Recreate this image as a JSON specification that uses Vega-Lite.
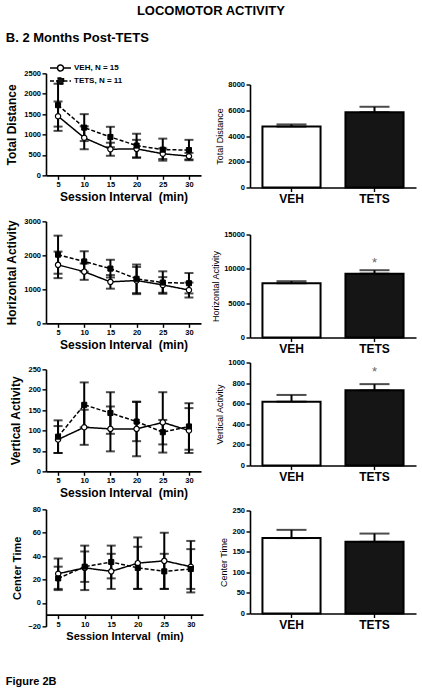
{
  "$schema": "https://vega.github.io/schema/vega-lite/v6.json",
  "padding": 5,
  "background": "white",
  "title": {"text": "LOCOMOTOR ACTIVITY", "anchor": "middle", "fontSize": 13, "offset": 14},
  "datasets": {
    "td": [
      {"t": 5, "group": "VEH", "mean": 1450, "sem": 360}, {"t": 10, "group": "VEH", "mean": 920, "sem": 280},
      {"t": 15, "group": "VEH", "mean": 640, "sem": 160}, {"t": 20, "group": "VEH", "mean": 650, "sem": 220},
      {"t": 25, "group": "VEH", "mean": 530, "sem": 130}, {"t": 30, "group": "VEH", "mean": 470, "sem": 80},
      {"t": 5, "group": "TETS", "mean": 1720, "sem": 525}, {"t": 10, "group": "TETS", "mean": 1170, "sem": 330},
      {"t": 15, "group": "TETS", "mean": 940, "sem": 250}, {"t": 20, "group": "TETS", "mean": 730, "sem": 290},
      {"t": 25, "group": "TETS", "mean": 630, "sem": 270}, {"t": 30, "group": "TETS", "mean": 620, "sem": 250}
    ],
    "ha": [
      {"t": 5, "group": "VEH", "mean": 1720, "sem": 390}, {"t": 10, "group": "VEH", "mean": 1520, "sem": 240},
      {"t": 15, "group": "VEH", "mean": 1220, "sem": 200}, {"t": 20, "group": "VEH", "mean": 1260, "sem": 400},
      {"t": 25, "group": "VEH", "mean": 1130, "sem": 230}, {"t": 30, "group": "VEH", "mean": 980, "sem": 220},
      {"t": 5, "group": "TETS", "mean": 2020, "sem": 560}, {"t": 10, "group": "TETS", "mean": 1820, "sem": 300},
      {"t": 15, "group": "TETS", "mean": 1610, "sem": 260}, {"t": 20, "group": "TETS", "mean": 1310, "sem": 420},
      {"t": 25, "group": "TETS", "mean": 1200, "sem": 330}, {"t": 30, "group": "TETS", "mean": 1180, "sem": 300}
    ],
    "va": [
      {"t": 5, "group": "VEH", "mean": 78, "sem": 33}, {"t": 10, "group": "VEH", "mean": 108, "sem": 43},
      {"t": 15, "group": "VEH", "mean": 104, "sem": 55}, {"t": 20, "group": "VEH", "mean": 104, "sem": 67},
      {"t": 25, "group": "VEH", "mean": 120, "sem": 74}, {"t": 30, "group": "VEH", "mean": 100, "sem": 55},
      {"t": 5, "group": "TETS", "mean": 85, "sem": 40}, {"t": 10, "group": "TETS", "mean": 163, "sem": 55},
      {"t": 15, "group": "TETS", "mean": 143, "sem": 51}, {"t": 20, "group": "TETS", "mean": 122, "sem": 48},
      {"t": 25, "group": "TETS", "mean": 96, "sem": 30}, {"t": 30, "group": "TETS", "mean": 110, "sem": 57}
    ],
    "ct": [
      {"t": 5, "group": "VEH", "mean": 25, "sem": 13}, {"t": 10, "group": "VEH", "mean": 30, "sem": 19},
      {"t": 15, "group": "VEH", "mean": 27, "sem": 15}, {"t": 20, "group": "VEH", "mean": 34, "sem": 22},
      {"t": 25, "group": "VEH", "mean": 36, "sem": 24}, {"t": 30, "group": "VEH", "mean": 31, "sem": 22},
      {"t": 5, "group": "TETS", "mean": 21, "sem": 10}, {"t": 10, "group": "TETS", "mean": 31, "sem": 13},
      {"t": 15, "group": "TETS", "mean": 35, "sem": 14}, {"t": 20, "group": "TETS", "mean": 30, "sem": 18},
      {"t": 25, "group": "TETS", "mean": 27, "sem": 15}, {"t": 30, "group": "TETS", "mean": 29, "sem": 17}
    ],
    "tdB": [{"group": "VEH", "mean": 4730, "upper": 4900, "sig": ""}, {"group": "TETS", "mean": 5850, "upper": 6270, "sig": ""}],
    "haB": [{"group": "VEH", "mean": 7900, "upper": 8200, "sig": ""}, {"group": "TETS", "mean": 9300, "upper": 9800, "sig": "*"}],
    "vaB": [{"group": "VEH", "mean": 620, "upper": 685, "sig": ""}, {"group": "TETS", "mean": 730, "upper": 790, "sig": "*"}],
    "ctB": [{"group": "VEH", "mean": 183, "upper": 203, "sig": ""}, {"group": "TETS", "mean": 174, "upper": 194, "sig": ""}]
  },
  "vconcat": [
    {
      "title": {"text": "Figure 2B", "orient": "bottom", "anchor": "start", "fontSize": 11, "offset": 34},
      "vconcat": [
        {
          "title": {"text": "B. 2 Months Post-TETS", "anchor": "start", "fontSize": 13, "offset": 24},
          "center": true,
          "spacing": 8,
          "hconcat": [
            {
              "spacing": 7,
              "vconcat": [
                {
                  "spacing": 15,
                  "vconcat": [
                    {
                      "width": 155, "height": 102,
                      "data": {"name": "td"},
                      "encoding": {
                        "x": {"field": "t", "type": "quantitative", "scale": {"domain": [2.7, 32.3], "nice": false, "zero": false}, "axis": {"values": [5, 10, 15, 20, 25, 30], "title": "Session Interval\u00a0 (min)"}},
                        "y": {"field": "mean", "type": "quantitative", "scale": {"domain": [0, 2500], "nice": false}, "axis": {"values": [0, 500, 1000, 1500, 2000, 2500], "title": "Total Distance", "titlePadding": 5}}
                      },
                      "layer": [
                        {"mark": {"type": "errorbar", "ticks": true, "size": 9, "thickness": 2, "color": "black"}, "encoding": {"yError": {"field": "sem"}}},
                        {"mark": {"type": "line", "color": "black", "strokeWidth": 1.5}, "encoding": {"strokeDash": {"field": "group", "type": "nominal", "scale": {"domain": ["VEH", "TETS"], "range": [[1, 0], [4, 2]]}, "legend": {"orient": "none", "legendX": 13, "legendY": -11, "title": null, "labelExpr": "datum.label == 'VEH' ? 'VEH, N = 15' : 'TETS, N = 11'", "labelFontWeight": "bold", "labelFontSize": 8, "labelColor": "black", "labelOffset": 3, "symbolSize": 100, "symbolStrokeWidth": 1.5, "symbolStrokeColor": "black", "rowPadding": 1, "encode": {"symbols": {"update": {"shape": {"signal": "datum.value == 'VEH' ? 'M-3,0H-1.5M-0.3,0H1.2M-1.5,0A0.6,0.6 0 1,1 -0.3,0A0.6,0.6 0 1,1 -1.5,0' : 'M-3,0H-1.5M-0.3,0H1.2M-1.5,-0.6H-0.3V0.6H-1.5Z'"}, "fill": {"signal": "datum.value == 'VEH' ? 'white' : 'black'"}, "stroke": {"value": "black"}}}}}}}},
                        {"transform": [{"filter": "datum.group == 'VEH'"}], "mark": {"type": "point", "shape": "circle", "filled": true, "fill": "white", "size": 28, "stroke": "black", "strokeWidth": 1.2, "opacity": 1}},
                        {"transform": [{"filter": "datum.group == 'TETS'"}], "mark": {"type": "point", "shape": "square", "filled": true, "fill": "black", "size": 26, "stroke": "black", "strokeWidth": 1, "opacity": 1}}
                      ]
                    },
                    {
                      "width": 155, "height": 102,
                      "data": {"name": "ha"},
                      "encoding": {
                        "x": {"field": "t", "type": "quantitative", "scale": {"domain": [2.7, 32.3], "nice": false, "zero": false}, "axis": {"values": [5, 10, 15, 20, 25, 30], "title": "Session Interval\u00a0 (min)"}},
                        "y": {"field": "mean", "type": "quantitative", "scale": {"domain": [0, 3000], "nice": false}, "axis": {"values": [0, 1000, 2000, 3000], "title": "Horizontal Activity", "titlePadding": 5}}
                      },
                      "layer": [
                        {"mark": {"type": "errorbar", "ticks": true, "size": 9, "thickness": 2, "color": "black"}, "encoding": {"yError": {"field": "sem"}}},
                        {"mark": {"type": "line", "color": "black", "strokeWidth": 1.5}, "encoding": {"strokeDash": {"field": "group", "type": "nominal", "scale": {"domain": ["VEH", "TETS"], "range": [[1, 0], [4, 2]]}, "legend": {"orient": "none", "legendX": 13, "legendY": -11, "title": null, "labelExpr": "datum.label == 'VEH' ? 'VEH, N = 15' : 'TETS, N = 11'", "labelFontWeight": "bold", "labelFontSize": 8, "labelColor": "black", "labelOffset": 3, "symbolSize": 100, "symbolStrokeWidth": 1.5, "symbolStrokeColor": "black", "rowPadding": 1, "encode": {"symbols": {"update": {"shape": {"signal": "datum.value == 'VEH' ? 'M-3,0H-1.5M-0.3,0H1.2M-1.5,0A0.6,0.6 0 1,1 -0.3,0A0.6,0.6 0 1,1 -1.5,0' : 'M-3,0H-1.5M-0.3,0H1.2M-1.5,-0.6H-0.3V0.6H-1.5Z'"}, "fill": {"signal": "datum.value == 'VEH' ? 'white' : 'black'"}, "stroke": {"value": "black"}}}}}}}},
                        {"transform": [{"filter": "datum.group == 'VEH'"}], "mark": {"type": "point", "shape": "circle", "filled": true, "fill": "white", "size": 28, "stroke": "black", "strokeWidth": 1.2, "opacity": 1}},
                        {"transform": [{"filter": "datum.group == 'TETS'"}], "mark": {"type": "point", "shape": "square", "filled": true, "fill": "black", "size": 26, "stroke": "black", "strokeWidth": 1, "opacity": 1}}
                      ]
                    },
                    {
                      "width": 155, "height": 102,
                      "data": {"name": "va"},
                      "encoding": {
                        "x": {"field": "t", "type": "quantitative", "scale": {"domain": [2.7, 32.3], "nice": false, "zero": false}, "axis": {"values": [5, 10, 15, 20, 25, 30], "title": "Session Interval\u00a0 (min)"}},
                        "y": {"field": "mean", "type": "quantitative", "scale": {"domain": [0, 250], "nice": false}, "axis": {"values": [0, 50, 100, 150, 200, 250], "title": "Vertical Activity", "titlePadding": 5}}
                      },
                      "layer": [
                        {"mark": {"type": "errorbar", "ticks": true, "size": 9, "thickness": 2, "color": "black"}, "encoding": {"yError": {"field": "sem"}}},
                        {"mark": {"type": "line", "color": "black", "strokeWidth": 1.5}, "encoding": {"strokeDash": {"field": "group", "type": "nominal", "scale": {"domain": ["VEH", "TETS"], "range": [[1, 0], [4, 2]]}, "legend": {"orient": "none", "legendX": 13, "legendY": -11, "title": null, "labelExpr": "datum.label == 'VEH' ? 'VEH, N = 15' : 'TETS, N = 11'", "labelFontWeight": "bold", "labelFontSize": 8, "labelColor": "black", "labelOffset": 3, "symbolSize": 100, "symbolStrokeWidth": 1.5, "symbolStrokeColor": "black", "rowPadding": 1, "encode": {"symbols": {"update": {"shape": {"signal": "datum.value == 'VEH' ? 'M-3,0H-1.5M-0.3,0H1.2M-1.5,0A0.6,0.6 0 1,1 -0.3,0A0.6,0.6 0 1,1 -1.5,0' : 'M-3,0H-1.5M-0.3,0H1.2M-1.5,-0.6H-0.3V0.6H-1.5Z'"}, "fill": {"signal": "datum.value == 'VEH' ? 'white' : 'black'"}, "stroke": {"value": "black"}}}}}}}},
                        {"transform": [{"filter": "datum.group == 'VEH'"}], "mark": {"type": "point", "shape": "circle", "filled": true, "fill": "white", "size": 28, "stroke": "black", "strokeWidth": 1.2, "opacity": 1}},
                        {"transform": [{"filter": "datum.group == 'TETS'"}], "mark": {"type": "point", "shape": "square", "filled": true, "fill": "black", "size": 26, "stroke": "black", "strokeWidth": 1, "opacity": 1}}
                      ]
                    }
                  ]
                },
                {
                  "width": 157, "height": 117,
                  "data": {"name": "ct"},
                  "encoding": {
                    "x": {"field": "t", "type": "quantitative", "scale": {"domain": [2.7, 32.3], "nice": false, "zero": false}, "axis": {"values": [5, 10, 15, 20, 25, 30], "title": "Session Interval\u00a0 (min)", "offset": -11.7, "titleFontSize": 11}},
                    "y": {"field": "mean", "type": "quantitative", "scale": {"domain": [-20, 80], "nice": false}, "axis": {"values": [-20, 0, 20, 40, 60, 80], "title": "Center Time", "titleFontSize": 11, "titlePadding": 5}}
                  },
                  "layer": [
                    {"mark": {"type": "errorbar", "ticks": true, "size": 9, "thickness": 2, "color": "black"}, "encoding": {"yError": {"field": "sem"}}},
                    {"mark": {"type": "line", "color": "black", "strokeWidth": 1.5}, "encoding": {"strokeDash": {"field": "group", "type": "nominal", "scale": {"domain": ["VEH", "TETS"], "range": [[1, 0], [4, 2]]}, "legend": {"orient": "none", "legendX": 13, "legendY": -1, "title": null, "labelExpr": "datum.label == 'VEH' ? 'VEH, N = 15' : 'TETS, N = 11'", "labelFontWeight": "bold", "labelFontSize": 8, "labelColor": "black", "labelOffset": 3, "symbolSize": 100, "symbolStrokeWidth": 1.5, "symbolStrokeColor": "black", "rowPadding": 1, "encode": {"symbols": {"update": {"shape": {"signal": "datum.value == 'VEH' ? 'M-3,0H-1.5M-0.3,0H1.2M-1.5,0A0.6,0.6 0 1,1 -0.3,0A0.6,0.6 0 1,1 -1.5,0' : 'M-3,0H-1.5M-0.3,0H1.2M-1.5,-0.6H-0.3V0.6H-1.5Z'"}, "fill": {"signal": "datum.value == 'VEH' ? 'white' : 'black'"}, "stroke": {"value": "black"}}}}}}}},
                    {"transform": [{"filter": "datum.group == 'VEH'"}], "mark": {"type": "point", "shape": "circle", "filled": true, "fill": "white", "size": 28, "stroke": "black", "strokeWidth": 1.2, "opacity": 1}},
                    {"transform": [{"filter": "datum.group == 'TETS'"}], "mark": {"type": "point", "shape": "square", "filled": true, "fill": "black", "size": 26, "stroke": "black", "strokeWidth": 1, "opacity": 1}}
                  ]
                }
              ]
            },
            {
              "spacing": 4,
              "vconcat": [
                {
                  "spacing": 26,
                  "vconcat": [
                    {
                      "width": 166, "height": 103,
                      "data": {"name": "tdB"},
                      "encoding": {
                        "x": {"field": "group", "type": "nominal", "sort": ["VEH", "TETS"], "scale": {"paddingInner": 0.3, "paddingOuter": 0.15}, "axis": {"title": null, "labelAngle": 0, "labelFontSize": 12, "labelPadding": 2}},
                        "y": {"field": "mean", "type": "quantitative", "scale": {"domain": [0, 8000], "nice": false}, "axis": {"values": [0, 2000, 4000, 6000, 8000], "title": "Total Distance", "titleFontSize": 9, "titleFontWeight": "normal"}}
                      },
                      "layer": [
                        {"mark": {"type": "bar", "stroke": "black", "strokeWidth": 2}, "encoding": {"fill": {"field": "group", "type": "nominal", "scale": {"domain": ["VEH", "TETS"], "range": ["white", "#151515"]}, "legend": null}}},
                        {"mark": {"type": "errorbar", "ticks": true, "size": 30, "thickness": 2, "color": "black"}, "encoding": {"y2": {"field": "upper"}}},
                        {"mark": {"type": "text", "dy": -8, "fontSize": 13, "color": "#666"}, "encoding": {"y": {"field": "upper", "type": "quantitative", "title": "Total Distance"}, "text": {"field": "sig"}}}
                      ]
                    },
                    {
                      "width": 166, "height": 103,
                      "data": {"name": "haB"},
                      "encoding": {
                        "x": {"field": "group", "type": "nominal", "sort": ["VEH", "TETS"], "scale": {"paddingInner": 0.3, "paddingOuter": 0.15}, "axis": {"title": null, "labelAngle": 0, "labelFontSize": 12, "labelPadding": 2}},
                        "y": {"field": "mean", "type": "quantitative", "scale": {"domain": [0, 15000], "nice": false}, "axis": {"values": [0, 5000, 10000, 15000], "title": "Horizontal Activity", "titleFontSize": 9, "titleFontWeight": "normal"}}
                      },
                      "layer": [
                        {"mark": {"type": "bar", "stroke": "black", "strokeWidth": 2}, "encoding": {"fill": {"field": "group", "type": "nominal", "scale": {"domain": ["VEH", "TETS"], "range": ["white", "#151515"]}, "legend": null}}},
                        {"mark": {"type": "errorbar", "ticks": true, "size": 30, "thickness": 2, "color": "black"}, "encoding": {"y2": {"field": "upper"}}},
                        {"mark": {"type": "text", "dy": -7, "fontSize": 13, "color": "#666"}, "encoding": {"y": {"field": "upper", "type": "quantitative", "title": "Horizontal Activity"}, "text": {"field": "sig"}}}
                      ]
                    }
                  ]
                },
                {
                  "spacing": 24,
                  "vconcat": [
                    {
                      "width": 166, "height": 103,
                      "data": {"name": "vaB"},
                      "encoding": {
                        "x": {"field": "group", "type": "nominal", "sort": ["VEH", "TETS"], "scale": {"paddingInner": 0.3, "paddingOuter": 0.15}, "axis": {"title": null, "labelAngle": 0, "labelFontSize": 12, "labelPadding": 2}},
                        "y": {"field": "mean", "type": "quantitative", "scale": {"domain": [0, 1000], "nice": false}, "axis": {"values": [0, 200, 400, 600, 800, 1000], "title": "Vertical Activity", "titleFontSize": 9, "titleFontWeight": "normal"}}
                      },
                      "layer": [
                        {"mark": {"type": "bar", "stroke": "black", "strokeWidth": 2}, "encoding": {"fill": {"field": "group", "type": "nominal", "scale": {"domain": ["VEH", "TETS"], "range": ["white", "#151515"]}, "legend": null}}},
                        {"mark": {"type": "errorbar", "ticks": true, "size": 30, "thickness": 2, "color": "black"}, "encoding": {"y2": {"field": "upper"}}},
                        {"mark": {"type": "text", "dy": -12, "fontSize": 13, "color": "#666"}, "encoding": {"y": {"field": "upper", "type": "quantitative", "title": "Vertical Activity"}, "text": {"field": "sig"}}}
                      ]
                    },
                    {
                      "width": 166, "height": 103,
                      "data": {"name": "ctB"},
                      "encoding": {
                        "x": {"field": "group", "type": "nominal", "sort": ["VEH", "TETS"], "scale": {"paddingInner": 0.3, "paddingOuter": 0.15}, "axis": {"title": null, "labelAngle": 0, "labelFontSize": 12, "labelPadding": 2}},
                        "y": {"field": "mean", "type": "quantitative", "scale": {"domain": [0, 250], "nice": false}, "axis": {"values": [0, 50, 100, 150, 200, 250], "title": "Center Time", "titleFontSize": 9, "titleFontWeight": "normal"}}
                      },
                      "layer": [
                        {"mark": {"type": "bar", "stroke": "black", "strokeWidth": 2}, "encoding": {"fill": {"field": "group", "type": "nominal", "scale": {"domain": ["VEH", "TETS"], "range": ["white", "#151515"]}, "legend": null}}},
                        {"mark": {"type": "errorbar", "ticks": true, "size": 30, "thickness": 2, "color": "black"}, "encoding": {"y2": {"field": "upper"}}},
                        {"mark": {"type": "text", "dy": -8, "fontSize": 13, "color": "#666"}, "encoding": {"y": {"field": "upper", "type": "quantitative", "title": "Center Time"}, "text": {"field": "sig"}}}
                      ]
                    }
                  ]
                }
              ]
            }
          ]
        }
      ]
    }
  ],
  "config": {
    "view": {"stroke": null},
    "font": "Liberation Sans",
    "axis": {"grid": false, "domainColor": "black", "domainWidth": 1.6, "tickColor": "black", "tickWidth": 1.4, "tickSize": 4, "labelFont": "Liberation Sans", "labelFontSize": 7.5, "labelFontWeight": "bold", "labelColor": "black", "labelOverlap": false, "titleFont": "Liberation Sans", "titleFontSize": 12, "titleFontWeight": "bold", "titleColor": "black", "labelPadding": 1.5, "titlePadding": 3},
    "axisQuantitative": {"format": "d"},
    "axisY": {"labelFlush": false},
    "axisBand": {"labelFontSize": 12},
    "legend": {"labelFont": "Liberation Sans"},
    "title": {"font": "Liberation Sans", "fontWeight": "bold", "color": "black"}
  }
}
